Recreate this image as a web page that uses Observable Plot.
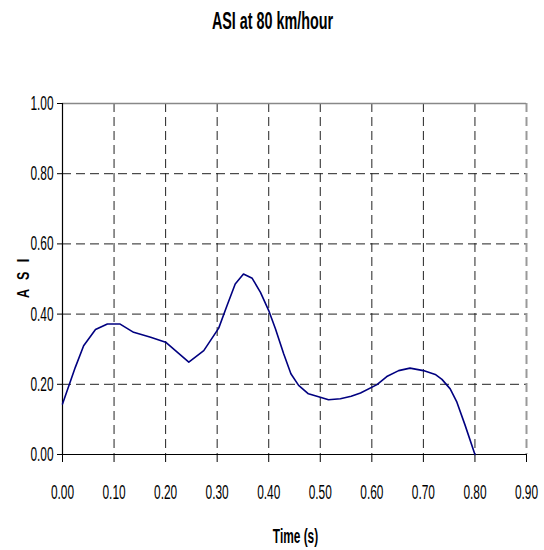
<!DOCTYPE html>
<html>
<head>
<meta charset="utf-8">
<script src="https://cdn.jsdelivr.net/npm/d3@7"></script>
<script src="https://cdn.jsdelivr.net/npm/@observablehq/plot@0.6"></script>
<style>
  html, body { margin: 0; padding: 0; background: white; }
  #chart { width: 544px; height: 550px; }
</style>
</head>
<body>
<div id="chart"></div>
<script>
const titleText = "ASI at 80 km/hour";
const xLabel = "Time (s)";
const yLabel = "A S I";
const times = [0, 0.025, 0.041, 0.064, 0.087, 0.111, 0.138, 0.171, 0.2, 0.245, 0.274, 0.303, 0.319, 0.335, 0.351, 0.368, 0.384, 0.40, 0.413, 0.429, 0.443, 0.458, 0.477, 0.50, 0.516, 0.539, 0.56, 0.578, 0.61, 0.629, 0.652, 0.674, 0.70, 0.723, 0.736, 0.752, 0.765, 0.781, 0.80];
const asi   = [0.144, 0.249, 0.31, 0.356, 0.372, 0.372, 0.348, 0.334, 0.32, 0.263, 0.296, 0.36, 0.424, 0.486, 0.514, 0.502, 0.462, 0.41, 0.358, 0.287, 0.23, 0.197, 0.173, 0.163, 0.156, 0.159, 0.166, 0.175, 0.199, 0.222, 0.239, 0.246, 0.239, 0.228, 0.214, 0.187, 0.149, 0.083, 0.0];
const xTicks = [0, 0.1, 0.2, 0.3, 0.4, 0.5, 0.6, 0.7, 0.8, 0.9];
const yTicks = [0, 0.2, 0.4, 0.6, 0.8, 1.0];

const data = times.map((t, i) => ({t, v: asi[i]}));
const fmt = d3.format(".2f");
const font = "'Liberation Sans', Arial, sans-serif";

const chart = Plot.plot({
  width: 544,
  height: 550,
  marginLeft: 62,
  marginRight: 18,
  marginTop: 103,
  marginBottom: 96,
  style: {fontFamily: font, fontSize: "14.5px", color: "black", background: "white", overflow: "visible"},
  x: {domain: [0, 0.9], label: null},
  y: {domain: [0, 1], label: null},
  marks: [
    Plot.gridX(xTicks.filter(t => t > 0 && t < 0.85), {stroke: "#222", strokeOpacity: 1, strokeDasharray: "9,5"}),
    Plot.gridY(yTicks.filter(t => t > 0 && t < 0.95), {stroke: "#222", strokeOpacity: 1, strokeDasharray: "9,5"}),
    Plot.ruleX([0.9], {stroke: "#999", strokeWidth: 2, strokeDasharray: "9,5"}),
    Plot.ruleY([1], {stroke: "#888", strokeWidth: 1.5}),
    Plot.axisX({ticks: xTicks, tickFormat: fmt, tickSize: 8, tickPadding: 24, label: null}),
    Plot.axisY({ticks: yTicks, tickFormat: fmt, tickSize: 5, tickPadding: 4, label: null}),
    Plot.ruleY([0], {stroke: "black", strokeWidth: 1.2}),
    Plot.ruleX([0], {stroke: "black", strokeWidth: 1.2}),
    Plot.line(data, {x: "t", y: "v", stroke: "#000080", strokeWidth: 1.6}),
    Plot.text([titleText], {frameAnchor: "top", dy: -82, dx: -22, fontWeight: "bold", fontSize: 17.5, lineAnchor: "middle"}),
    Plot.text([xLabel], {frameAnchor: "bottom", dy: 82, dx: 1, fontWeight: "bold", fontSize: 14.5, lineAnchor: "middle"}),
    Plot.text([yLabel], {frameAnchor: "left", dx: -39, dy: 19, rotate: -90, fontWeight: "bold", fontSize: 12.5, lineAnchor: "middle"})
  ]
});

document.getElementById("chart").appendChild(chart);

// Narrow and stretch text to mimic the tall condensed lettering of the original
chart.querySelectorAll("text").forEach(el => {
  const rotated = el.textContent === yLabel;
  if (rotated) el.style.letterSpacing = "3px";
  const b = el.getBBox();
  const anchor = getComputedStyle(el).textAnchor;
  const ax = anchor === "end" ? b.x + b.width : anchor === "middle" ? b.x + b.width / 2 : b.x;
  const ay = b.y + b.height / 2;
  const sx = rotated ? 1 : 0.82, sy = rotated ? 1.3 : 1.38;
  const prev = el.getAttribute("transform") || "";
  el.setAttribute("transform", `${prev} translate(${ax},${ay}) scale(${sx},${sy}) translate(${-ax},${-ay})`);
});
</script>
</body>
</html>
